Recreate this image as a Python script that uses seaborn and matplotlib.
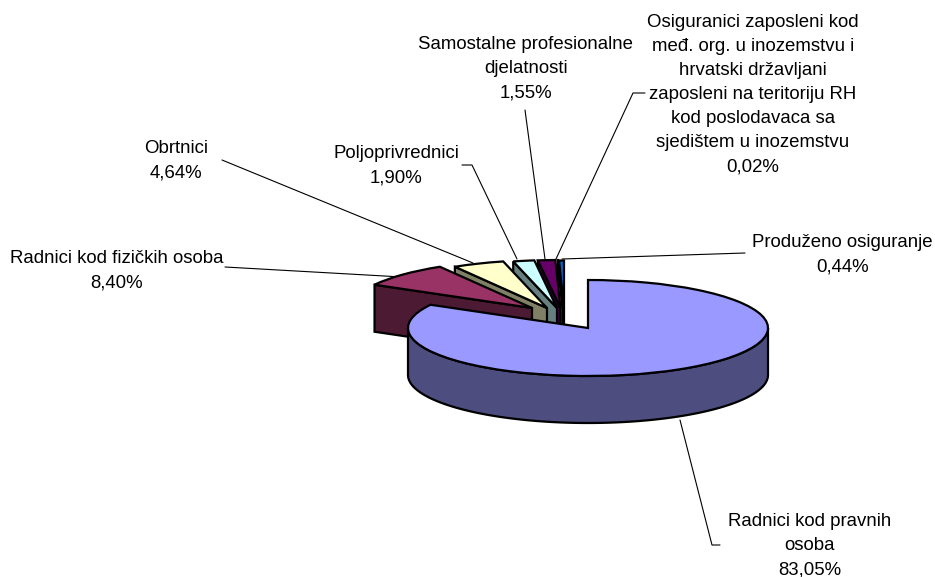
import numpy as np
import matplotlib
matplotlib.use("Agg")
import matplotlib.pyplot as plt
import seaborn as sns

# ---- data ----
categories = ["Radnici kod pravnih\nosoba", "Radnici kod fizičkih osoba", "Obrtnici", "Poljoprivrednici",
              "Samostalne profesionalne\ndjelatnosti",
              "Osiguranici zaposleni kod\nmeđ. org. u inozemstvu i\nhrvatski državljani\nzaposleni na teritoriju RH\nkod poslodavaca sa\nsjedištem u inozemstvu",
              "Produženo osiguranje"]
shares = [83.05, 8.40, 4.64, 1.90, 1.55, 0.02, 0.44]
top_colors = ["#9999FF", "#993366", "#FFFFCC", "#CCFFFF", "#660066", "#FF8080", "#0066CC"]
side_colors = ["#4D4D80", "#4D1A33", "#808066", "#668080", "#330033", "#804040", "#003366"]

# ---- layout (pixels) ----
W, H = 935, 577
CX, CY, RX, RY, DEPTH = 588, 328, 180, 48, 47
offsets_px = [(0, 0), (-56, -20), (-41, -20), (-31, -20), (-27.5, -20), (-25, -20), (-24, -19.5)]
label_px = [(810, 545.5), (117, 271), (176, 161), (396, 166), (526, 68.5), (753, 94.5), (842.5, 254.5)]
leaders_px = [
    [(720, 545), (712, 545), (680, 420)],
    [(225, 267), (402, 277)],
    [(222, 160), (473, 263)],
    [(462, 165), (472, 165), (517, 259)],
    [(525, 110), (545, 259)],
    [(645, 93), (633, 93), (556, 259)],
    [(745, 253), (562, 259)],
]

sns.set_theme(style="white")
plt.rcParams["font.family"] = ["Liberation Sans", "DejaVu Sans"]
fig = plt.figure(figsize=(W / 100, H / 100), dpi=100, facecolor="white")
ax = fig.add_axes([0, 0, 1, 1])


def to_data(x, y):
    return (x - CX) / RX, (CY - y) / RY


wedges, _ = ax.pie(shares, startangle=90, counterclock=False, radius=1,
                   colors=sns.color_palette(top_colors),
                   wedgeprops=dict(edgecolor="black", linewidth=1.6, joinstyle="miter"))
ax.set_aspect("auto")
ax.set_xlim(-CX / RX, (W - CX) / RX)
ax.set_ylim((CY - H) / RY, CY / RY)
ax.axis("off")

depth = DEPTH / RY
n = len(wedges)
for i, w in enumerate(wedges):
    dx, dy = offsets_px[i][0] / RX, -offsets_px[i][1] / RY
    w.set_center((dx, dy))
    # paint from the right-most slice to the left-most, the main slice last
    z = 3 + 2 * (n - i)
    w.set_zorder(z + 1)
    if i == 0:
        # visible outer wall of the main slice
        t = np.radians(np.linspace(180, 360, 160))
        xs = np.cos(t) + dx
        ys = np.sin(t) + dy
        px = np.r_[xs, xs[::-1]]
        py = np.r_[ys, ys[::-1] - depth]
    else:
        # radial wall facing the viewer
        t = np.radians(max(w.theta1, w.theta2))
        cx0, cy0 = np.cos(t) + dx, np.sin(t) + dy
        px = [dx, cx0, cx0, dx]
        py = [dy, cy0, cy0 - depth, dy - depth]
    ax.fill(px, py, facecolor=side_colors[i], edgecolor="black", linewidth=1.6,
            joinstyle="miter", zorder=z)

for name, share, (lx, ly), pts in zip(categories, shares, label_px, leaders_px):
    xs, ys = zip(*[to_data(*p) for p in pts])
    ax.plot(xs, ys, color="black", lw=0.8, zorder=2)
    tx, ty = to_data(lx, ly)
    label = name + "\n" + f"{share:.2f}".replace(".", ",") + "%"
    ax.text(tx, ty, label, ha="center", va="center", fontsize=13.4, linespacing=1.54,
            color="black", zorder=31)

fig.savefig("out.png", dpi=100, facecolor="white")
